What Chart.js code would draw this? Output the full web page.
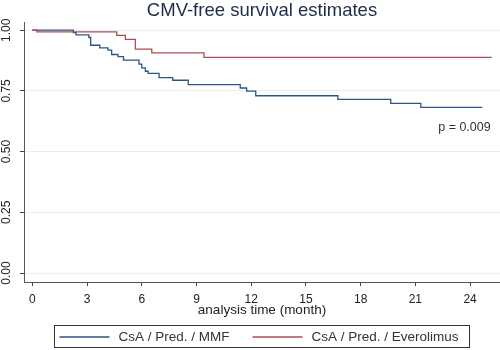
<!DOCTYPE html>
<html>
<head>
<meta charset="utf-8">
<script src="https://cdn.jsdelivr.net/npm/chart.js@4.4.1/dist/chart.umd.min.js"></script>
<style>
  html, body { margin: 0; padding: 0; background: #fff; }
  #wrap { width: 500px; height: 350px; }
</style>
</head>
<body>
<div id="wrap"><canvas id="kmChart" width="500" height="350"></canvas></div>
<script>
// Kaplan-Meier steps (months, survival)
const mmfTime = [0, 2.25, 2.4, 3.1, 3.2, 3.7, 4.15, 4.35, 4.7, 5.0, 5.85, 6.0, 6.2, 6.35, 6.95, 7.7, 8.55, 11.4, 11.75, 12.25, 16.75, 19.65, 21.3, 24.67];
const mmfSurv = [1.0, 0.99, 0.981, 0.97, 0.938, 0.927, 0.918, 0.9, 0.891, 0.877, 0.86, 0.845, 0.831, 0.822, 0.805, 0.794, 0.776, 0.762, 0.749, 0.73, 0.715, 0.699, 0.682, 0.682];

const everoTime = [0, 0.25, 4.63, 5.1, 5.65, 6.55, 9.41, 25.19];
const everoSurv = [1.0, 0.993, 0.979, 0.962, 0.922, 0.907, 0.888, 0.888];

const seriesNames = ["CsA / Pred. / MMF", "CsA / Pred. / Everolimus"];
const seriesColors = ["#2b5683", "#ad4d56"];

const xTicks = [0, 3, 6, 9, 12, 15, 18, 21, 24];
const yTicks = [0, 0.25, 0.5, 0.75, 1];
const yTickLabels = ["0.00", "0.25", "0.50", "0.75", "1.00"];

const pText = "p = 0.009";
const pAt = { x: 25.13, y: 0.586 };

const FONT = '"Liberation Sans", Arial, sans-serif';

function toPoints(t, s) {
  return t.map((v, i) => ({ x: v, y: s[i] }));
}

// Stata-like boxed legend and the p-value note
const extras = {
  id: "extras",
  afterDraw(chart) {
    const ctx = chart.ctx;
    const area = chart.chartArea;
    ctx.save();

    // p value
    ctx.font = "12.5px " + FONT;
    ctx.fillStyle = "#333";
    ctx.textAlign = "right";
    ctx.textBaseline = "alphabetic";
    ctx.fillText(pText, chart.scales.x.getPixelForValue(pAt.x), chart.scales.y.getPixelForValue(pAt.y));

    // legend
    ctx.font = "13.5px " + FONT;
    const lineLen = 50, gap = 9, spacing = 23, padL = 5, padR = 11;
    const ds = chart.data.datasets;
    const widths = ds.map(d => ctx.measureText(d.label).width);
    let total = padL + padR + spacing * (ds.length - 1);
    widths.forEach(w => { total += lineLen + gap + w; });
    const left = Math.round((area.left + area.right) / 2 - total / 2) + 0.5;
    const top = chart.height - 25 + 0.5;
    const mid = chart.height - 13;
    ctx.strokeStyle = "#333";
    ctx.lineWidth = 1;
    ctx.strokeRect(left, top, Math.round(total), 22);

    let x = left + padL;
    ctx.textAlign = "left";
    ctx.textBaseline = "middle";
    ds.forEach((d, i) => {
      ctx.strokeStyle = d.borderColor;
      ctx.lineWidth = d.borderWidth;
      ctx.beginPath();
      ctx.moveTo(x, mid);
      ctx.lineTo(x + lineLen, mid);
      ctx.stroke();
      x += lineLen + gap;
      ctx.fillStyle = "#333";
      ctx.fillText(d.label, x, mid);
      x += widths[i] + spacing;
    });
    ctx.restore();
  }
};

new Chart(document.getElementById("kmChart"), {
  type: "line",
  data: {
    datasets: [
      {
        label: seriesNames[0],
        data: toPoints(mmfTime, mmfSurv),
        borderColor: seriesColors[0],
        borderWidth: 1.3,
        stepped: true,
        pointRadius: 0,
        order: 1
      },
      {
        label: seriesNames[1],
        data: toPoints(everoTime, everoSurv),
        borderColor: seriesColors[1],
        borderWidth: 1.3,
        stepped: true,
        pointRadius: 0,
        order: 0
      }
    ]
  },
  options: {
    responsive: false,
    animation: false,
    layout: { padding: { left: 0, right: 0, top: 0, bottom: 26 } },
    plugins: {
      legend: { display: false },
      tooltip: { enabled: false },
      title: {
        display: true,
        text: "CMV-free survival estimates",
        fullSize: false,
        color: "#1e2c4c",
        font: { family: FONT, size: 18.5, weight: "normal" },
        padding: { top: 0, bottom: 0 }
      }
    },
    scales: {
      x: {
        type: "linear",
        min: -0.455,
        max: 25.64,
        afterBuildTicks: s => { s.ticks = xTicks.map(v => ({ value: v })); },
        afterFit: s => { s.height = 42; },
        ticks: {
          color: "#222",
          font: { family: FONT, size: 12 },
          padding: 6,
          maxRotation: 0,
          callback: v => String(v)
        },
        grid: { drawOnChartArea: false, drawTicks: true, tickLength: 4, tickColor: "#444" },
        border: { display: true, color: "#555", width: 1 },
        title: {
          display: true,
          text: "analysis time (month)",
          color: "#222",
          font: { family: FONT, size: 13.5 },
          padding: { top: 0, bottom: 6 }
        }
      },
      y: {
        type: "linear",
        min: -0.037,
        max: 1.033,
        afterBuildTicks: s => { s.ticks = yTicks.map(v => ({ value: v })); },
        afterFit: s => { s.width = 24; },
        ticks: {
          color: "#222",
          font: { family: FONT, size: 12 },
          padding: 2,
          minRotation: 90,
          maxRotation: 90,
          crossAlign: "center",
          callback: (v, i) => yTickLabels[i]
        },
        grid: { color: "#e6eff1", lineWidth: 1, drawTicks: true, tickLength: 4, tickColor: "#444" },
        border: { display: true, color: "#555", width: 1 }
      }
    }
  },
  plugins: [extras]
});
</script>
</body>
</html>
